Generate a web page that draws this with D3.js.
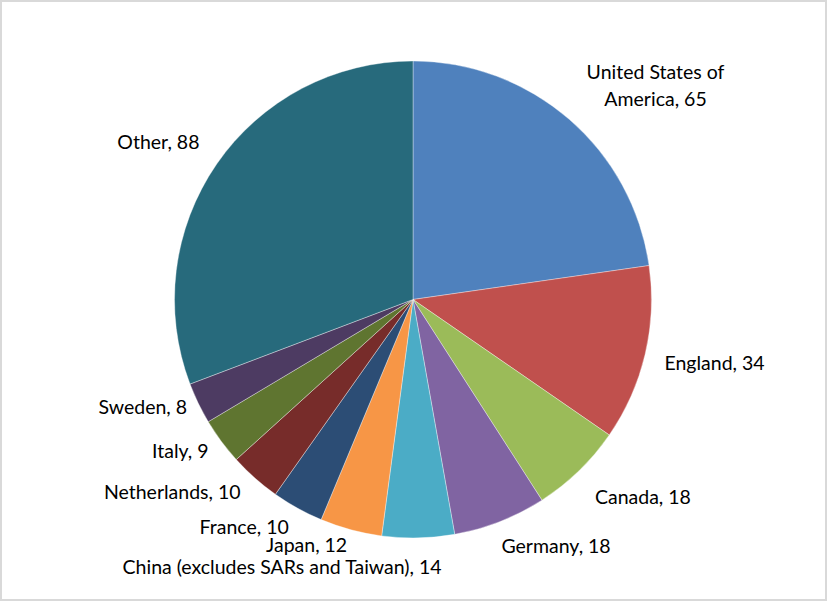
<!DOCTYPE html>
<html>
<head>
<meta charset="utf-8">
<script src="https://cdn.jsdelivr.net/npm/d3@7"></script>
<style>
  html, body { margin: 0; padding: 0; background: #fff; }
  svg text { font-family: Lato, "Liberation Sans", sans-serif; fill: #000; }
</style>
</head>
<body>
<svg id="chart"></svg>
<script>
// data
const countries = ["United States of America", "England", "Canada", "Germany",
    "China (excludes SARs and Taiwan)", "Japan", "France", "Netherlands",
    "Italy", "Sweden", "Other"];
const counts = [65, 34, 18, 18, 14, 12, 10, 10, 9, 8, 88];
const colours = ["#4F81BD", "#C0504D", "#9BBB59", "#8064A2", "#4BACC6", "#F79646",
    "#2C4D75", "#772C2A", "#5F7530", "#4D3B62", "#276A7C"];

const width = 827, height = 601;
const cx = 413, cy = 299.5, radius = 238.5;
const gap = 14;

// Excel moved some labels off the straight radial spot, nudges in px
const labelNudge = {
    "United States of America": [32, -5],
    "England": [7, 3],
    "Canada": [21, 7],
    "Germany": [31, 0],
    "China (excludes SARs and Taiwan)": [-140, 3],
    "Japan": [-30, -10],
    "France": [-25, -4],
    "Netherlands": [-28, -6],
    "Italy": [-7, -6],
    "Sweden": [-3, -8],
    "Other": [-13, -8]
};

const data = countries.map((c, i) => ({name: c, value: counts[i], colour: colours[i]}));

const svg = d3.select("#chart")
    .attr("width", width)
    .attr("height", height);

svg.append("rect")
    .attr("x", 1).attr("y", 1)
    .attr("width", width - 2).attr("height", height - 2)
    .attr("fill", "#fff")
    .attr("stroke", "#D9D9D9")
    .attr("stroke-width", 2);

const pie = d3.pie()
    .sort(null)
    .value(d => d.value);

const arc = d3.arc()
    .innerRadius(0)
    .outerRadius(radius);

const arcs = pie(data);

const g = svg.append("g")
    .attr("transform", "translate(" + cx + "," + cy + ")");

g.selectAll("path.slice")
    .data(arcs)
    .enter()
    .append("path")
    .attr("class", "slice")
    .attr("d", arc)
    .attr("fill", d => d.data.colour)
    .attr("stroke", "rgba(255,255,255,0.45)")
    .attr("stroke-width", 0.8);

// labels
const labels = g.append("g");
arcs.forEach(d => {
    const a = (d.startAngle + d.endAngle) / 2;
    const ux = Math.sin(a), uy = -Math.cos(a);
    let lines = [d.data.name + ", " + d.data.value];
    if (d.data.name === "United States of America") {
        lines = ["United States of", "America, " + d.data.value];
    }
    const t = labels.append("text")
        .attr("text-anchor", "middle")
        .style("font-size", "19.5px");
    lines.forEach((l, i) => {
        t.append("tspan")
            .attr("x", 0)
            .attr("dy", i === 0 ? 0 : 27)
            .text(l);
    });
    const bb = t.node().getBBox();
    const w = bb.width, h = bb.height;
    const nudge = labelNudge[d.data.name] || [0, 0];
    const bx = (radius + gap) * ux + w / 2 * ux + nudge[0];
    const by = (radius + gap) * uy + h / 2 * uy + nudge[1];
    // centre the box on (bx, by)
    const offY = by - (bb.y + h / 2);
    t.attr("transform", "translate(" + bx + "," + offY + ")");
});
</script>
</body>
</html>
